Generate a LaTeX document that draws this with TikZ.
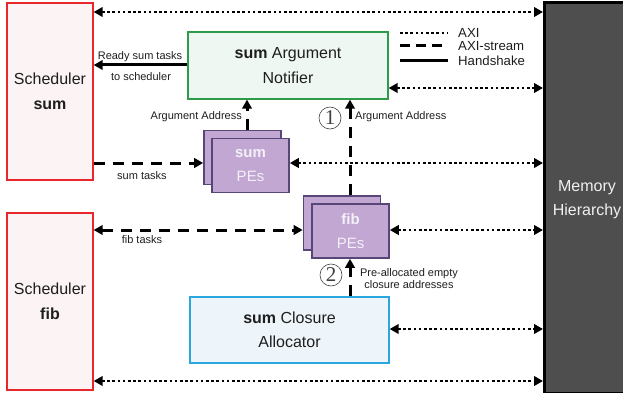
\documentclass[tikz,border=0pt]{standalone}
\usepackage{fontspec}
\setmainfont{Liberation Sans}
\newfontfamily\numfont{Liberation Serif}
\usetikzlibrary{arrows.meta}

\definecolor{schedfill}{HTML}{FCF4F4}
\definecolor{schedline}{HTML}{E8262B}
\definecolor{notiffill}{HTML}{EEF7F1}
\definecolor{notifline}{HTML}{2E9B4A}
\definecolor{allocfill}{HTML}{EEF5FA}
\definecolor{allocline}{HTML}{2AA7DF}
\definecolor{pefill}{HTML}{C1A7D1}
\definecolor{peline}{HTML}{574779}
\definecolor{petext}{HTML}{F4F0F8}
\definecolor{memfill}{HTML}{4E4E4E}
\definecolor{memtext}{HTML}{F0F0F0}
\definecolor{inktext}{HTML}{1E1E1E}

\tikzset{
  x=1pt, y=-1pt,
  >={Triangle[length=9pt,width=9.5pt]},
  bigtext/.style={font=\fontsize{16}{24.5}\selectfont, align=center, text=inktext},
  smalltext/.style={font=\fontsize{11}{11.5}\selectfont, align=center, text=inktext},
  legendtext/.style={font=\fontsize{13.2}{13}\selectfont, text=inktext, anchor=west, inner sep=0pt},
  sched/.style={draw=schedline, fill=schedfill, line width=1.3pt, bigtext,
    minimum width=86pt, minimum height=177pt, inner sep=0pt},
  unitbox/.style={line width=1.3pt, bigtext, minimum width=200pt, minimum height=67pt, inner sep=0pt},
  pebox/.style={draw=peline, fill=pefill, line width=1.6pt, minimum width=77pt,
    minimum height=54pt, inner sep=0pt, align=center, text=petext,
    font=\fontsize{15}{24}\selectfont},
  axi/.style={line width=2.8pt, dash pattern=on 2.6pt off 2.6pt},
  stream/.style={line width=3pt, dash pattern=on 11pt off 8pt},
  shake/.style={line width=3pt},
  stepnum/.style={circle, draw=black!75, line width=0.6pt, minimum size=22pt, inner sep=0pt,
    font=\numfont\fontsize{21}{21}\selectfont, text=black!75},
}

\begin{document}
\begin{tikzpicture}
\useasboundingbox (0,0) rectangle (623,393);

% memory block, running past the right edge
\node[draw=black, fill=memfill, line width=3pt, anchor=north west,
      minimum width=95pt, minimum height=390pt, inner sep=0pt] (mem) at (543,1.5) {};
\node[bigtext, text=memtext] (memlabel) at (587,199.5) {Memory\\Hierarchy};

% schedulers
\node[sched] (ssum) at (50,91.5) {Scheduler\\\textbf{sum}};
\node[sched] (sfib) at (50,301.5) {Scheduler\\\textbf{fib}};

% argument notifier and closure allocator
\node[unitbox, draw=notifline, fill=notiffill] (notif) at (288,65.5) {\textbf{sum} Argument\\Notifier};
\node[unitbox, draw=allocline, fill=allocfill, minimum width=199pt, minimum height=66pt]
  (alloc) at (289.5,330) {\textbf{sum} Closure\\Allocator};

% processing elements (stacked pairs)
\node[pebox] (sumpeb) at (242.5,157.5) {};
\node[pebox] (sumpe) at (250.5,165.5) {\textbf{sum}\\PEs};
\node[pebox] (fibpeb) at (342,223) {};
\node[pebox] (fibpe) at (350.5,231) {\textbf{fib}\\PEs};

% connector levels
\coordinate (ytop) at (0,12);
\coordinate (yready) at (0,65);
\coordinate (ynotif) at (0,88);
\coordinate (ysum) at (0,163);
\coordinate (yfib) at (0,230);
\coordinate (yalloc) at (0,329);
\coordinate (ybot) at (0,381);
\coordinate (xarg) at (247,0);
\coordinate (xfib) at (350,0);

% AXI links to memory
\draw[axi,<->] (ssum.east |- ytop) -- (mem.west |- ytop);
\draw[axi,<->] (notif.east |- ynotif) -- (mem.west |- ynotif);
\draw[axi,<->] (sumpe.east |- ysum) -- (mem.west |- ysum);
\draw[axi,<->] (fibpe.east |- yfib) -- (mem.west |- yfib);
\draw[axi,<->] (alloc.east |- yalloc) -- (mem.west |- yalloc);
\draw[axi,<->] (sfib.east |- ybot) -- (mem.west |- ybot);

% handshake: ready tasks back to the scheduler
\draw[shake,->] (notif.west |- yready) -- (ssum.east |- yready);
\node[smalltext] (readylbl) at (140,57) {Ready sum tasks};
\node[smalltext] (toschedlbl) at (141,77) {to scheduler};

% task streams
\draw[stream,->] (ssum.east |- ysum) -- (sumpeb.west |- ysum);
\node[smalltext] (sumtasks) at (142,176) {sum tasks};
\draw[stream,<->] (sfib.east |- yfib) -- (fibpeb.west |- yfib);
\node[smalltext] (fibtasks) at (142,240) {fib tasks};

% argument addresses to the notifier
\draw[stream,->] (xarg |- sumpeb.north) -- (xarg |- notif.south);
\node[smalltext, anchor=east, inner sep=0pt] (argl) at (242,117) {Argument Address};
\draw[stream,->] (xfib |- fibpeb.north) -- (xfib |- notif.south);
\node[smalltext, anchor=west, inner sep=0pt] (argr) at (355,117) {Argument Address};
\node[stepnum] (one) at (330,118) {1};

% pre-allocated closures to the fib PEs
\draw[stream,->] (xfib |- alloc.north) -- (xfib |- fibpe.south);
\node[stepnum] (two) at (331,275) {2};
\node[smalltext] (prealloc) at (409,278.5) {Pre-allocated empty\\closure addresses};

% legend
\coordinate (lga) at (400,33);
\coordinate (lgb) at (448,33);
\coordinate (lgc) at (400,46);
\coordinate (lgd) at (448,46);
\coordinate (lge) at (400,61);
\coordinate (lgf) at (448,61);
\draw[axi] (lga) -- (lgb);
\draw[line width=3pt, dash pattern=on 10pt off 6pt] (lgc) -- (lgd);
\draw[shake] (lge) -- (lgf);
\node[legendtext] (lgaxi) at (458,33) {AXI};
\node[legendtext] (lgstream) at (458,46) {AXI-stream};
\node[legendtext] (lgshake) at (458,61) {Handshake};
\end{tikzpicture}
\end{document}
